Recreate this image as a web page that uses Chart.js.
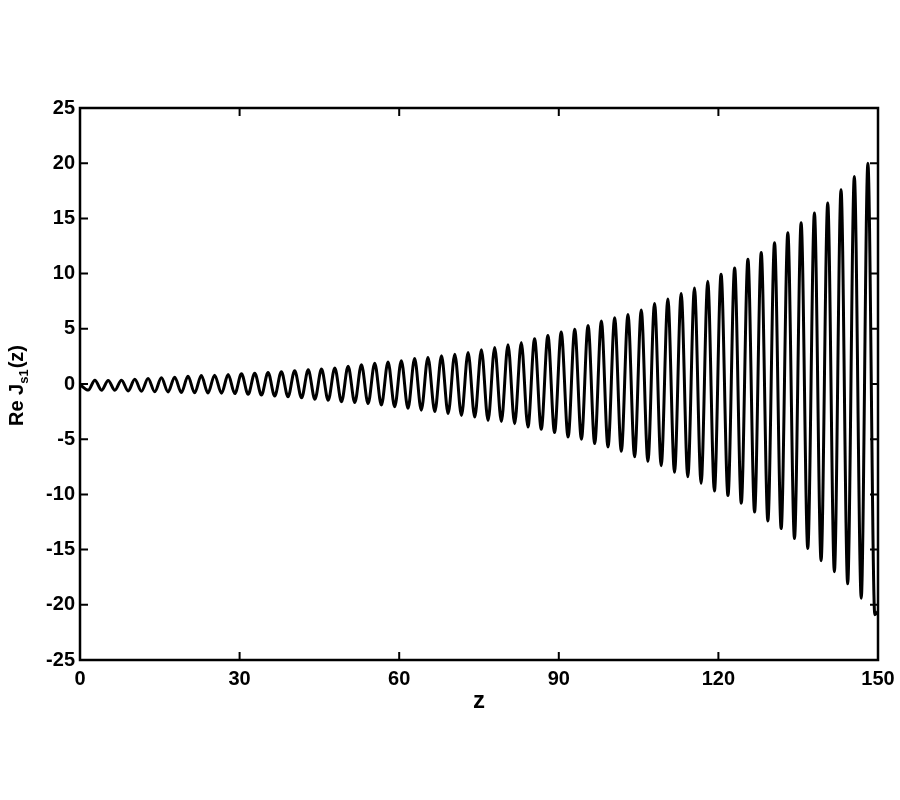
<!DOCTYPE html>
<html>
<head>
<meta charset="utf-8">
<title>Re Js1(z)</title>
<script src="https://cdn.jsdelivr.net/npm/chart.js@4.4.1/dist/chart.umd.min.js"></script>
<style>
  html, body { margin: 0; padding: 0; background: #fff; overflow: hidden; }
  #wrap { width: 900px; height: 800px; position: relative; }
</style>
</head>
<body>
<div id="wrap"><canvas id="chart"></canvas></div>
<script>
// crests and troughs (z, Re Js1)
const peakZ = [2.8, 5.3, 7.8, 10.3, 12.8, 15.3, 17.8, 20.3, 22.8, 25.3,
    27.85, 30.35, 32.85, 35.35, 37.85, 40.35, 42.9, 45.4, 47.9, 50.4,
    52.9, 55.4, 57.9, 60.4, 62.9, 65.4, 67.95, 70.45, 72.95, 75.45,
    77.95, 80.45, 82.95, 85.45, 87.95, 90.45, 93.0, 95.5, 98.0, 100.5,
    103.0, 105.5, 108.0, 110.5, 113.0, 115.5, 118.0, 120.5, 123.05, 125.55,
    128.05, 130.55, 133.05, 135.55, 138.05, 140.55, 143.05, 145.55, 148.1];
const peakRe = [0.35, 0.32, 0.35, 0.42, 0.5, 0.56, 0.62, 0.7, 0.76, 0.8,
    0.85, 0.92, 0.98, 1.04, 1.12, 1.2, 1.28, 1.35, 1.45, 1.6,
    1.75, 1.88, 2.0, 2.1, 2.3, 2.4, 2.55, 2.7, 2.85, 3.1,
    3.3, 3.55, 3.75, 4.1, 4.4, 4.7, 4.95, 5.3, 5.7, 6.0,
    6.3, 6.7, 7.3, 7.7, 8.2, 8.7, 9.3, 9.95, 10.5, 11.3,
    11.9, 12.8, 13.7, 14.6, 15.5, 16.4, 17.6, 18.8, 20.0];

const troughZ = [1.55, 4.05, 6.55, 9.05, 11.55, 14.05, 16.55, 19.05, 21.55, 24.05,
    26.6, 29.1, 31.6, 34.1, 36.6, 39.1, 41.65, 44.15, 46.65, 49.15,
    51.65, 54.15, 56.65, 59.15, 61.65, 64.15, 66.7, 69.2, 71.7, 74.2,
    76.7, 79.2, 81.7, 84.2, 86.7, 89.2, 91.75, 94.25, 96.75, 99.25,
    101.75, 104.25, 106.75, 109.25, 111.75, 114.25, 116.75, 119.25, 121.8, 124.3,
    126.8, 129.3, 131.8, 134.3, 136.8, 139.3, 141.8, 144.3, 146.85, 149.4];
const troughRe = [-0.55, -0.56, -0.57, -0.63, -0.66, -0.7, -0.72, -0.77, -0.8, -0.82,
    -0.84, -0.87, -0.93, -1.0, -1.08, -1.16, -1.25, -1.38, -1.47, -1.6,
    -1.68, -1.77, -1.9, -2.07, -2.2, -2.37, -2.5, -2.67, -2.85, -3.0,
    -3.3, -3.4, -3.6, -3.9, -4.1, -4.4, -4.8, -5.0, -5.4, -5.7,
    -6.1, -6.6, -7.0, -7.4, -8.0, -8.4, -9.0, -9.7, -10.1, -10.8,
    -11.6, -12.4, -13.1, -14.0, -14.9, -16.0, -17.0, -18.1, -19.4, -20.9];

// curve ends
const endZ = [0, 150];
const endRe = [-0.05, -20.6];

const xTicks = [0, 30, 60, 90, 120, 150];
const yTicks = [-25, -20, -15, -10, -5, 0, 5, 10, 15, 20, 25];

const FONT = '"Liberation Sans", Arial, sans-serif';

let points = [];
peakZ.forEach((z, i) => points.push({ x: z, y: peakRe[i] }));
troughZ.forEach((z, i) => points.push({ x: z, y: troughRe[i] }));
endZ.forEach((z, i) => points.push({ x: z, y: endRe[i] }));
points.sort((a, b) => a.x - b.x);

// box frame, inward ticks and axis titles
const framePlugin = {
    id: 'frame',
    afterDraw(chart) {
        const ctx = chart.ctx;
        const a = chart.chartArea;
        const xs = chart.scales.x, ys = chart.scales.y;
        const tl = 8;
        ctx.save();
        ctx.strokeStyle = '#000';
        ctx.lineWidth = 2.5;
        ctx.strokeRect(a.left, a.top, a.right - a.left, a.bottom - a.top);
        ctx.lineWidth = 2;
        ctx.beginPath();
        xTicks.forEach(v => {
            const px = xs.getPixelForValue(v);
            ctx.moveTo(px, a.bottom); ctx.lineTo(px, a.bottom - tl);
            ctx.moveTo(px, a.top); ctx.lineTo(px, a.top + tl);
        });
        yTicks.forEach(v => {
            const py = ys.getPixelForValue(v);
            ctx.moveTo(a.left, py); ctx.lineTo(a.left + tl, py);
            ctx.moveTo(a.right, py); ctx.lineTo(a.right - tl, py);
        });
        ctx.stroke();

        ctx.fillStyle = '#000';
        // x title
        ctx.font = 'bold 24px ' + FONT;
        ctx.textAlign = 'center';
        ctx.textBaseline = 'alphabetic';
        ctx.fillText('z', (a.left + a.right) / 2, 708);

        // y title with subscript, rotated
        ctx.translate(23, (a.top + a.bottom) / 2 + 2);
        ctx.rotate(-Math.PI / 2);
        ctx.textAlign = 'left';
        const big = 'bold 20px ' + FONT, small = 'bold 13px ' + FONT;
        ctx.font = big;
        const w1 = ctx.measureText('Re J').width;
        const w3 = ctx.measureText('(z)').width;
        ctx.font = small;
        const w2 = ctx.measureText('s1').width;
        let x0 = -(w1 + w2 + w3) / 2;
        ctx.font = big;
        ctx.fillText('Re J', x0, 0);
        ctx.font = small;
        ctx.fillText('s1', x0 + w1, 5);
        ctx.font = big;
        ctx.fillText('(z)', x0 + w1 + w2 + 1, 0);
        ctx.restore();
    }
};

new Chart(document.getElementById('chart'), {
    type: 'line',
    data: {
        datasets: [{
            data: points,
            borderColor: '#000',
            borderWidth: 3,
            pointRadius: 0,
            fill: false,
            cubicInterpolationMode: 'monotone'
        }]
    },
    options: {
        responsive: true,
        maintainAspectRatio: false,
        animation: false,
        layout: { padding: { left: 0, right: 22, top: 108, bottom: 0 } },
        plugins: {
            legend: { display: false },
            tooltip: { enabled: false }
        },
        scales: {
            x: {
                type: 'linear',
                min: 0,
                max: 150,
                afterBuildTicks: s => { s.ticks = xTicks.map(v => ({ value: v })); },
                afterFit: s => { s.height = 140; s.paddingRight = 0; s.paddingLeft = 0; },
                grid: { display: false, drawTicks: false },
                border: { display: false },
                ticks: {
                    padding: 7,
                    color: '#000',
                    font: { family: FONT, size: 20, weight: 'bold' }
                }
            },
            y: {
                type: 'linear',
                min: -25,
                max: 25,
                afterBuildTicks: s => { s.ticks = yTicks.map(v => ({ value: v })); },
                afterFit: s => { s.width = 80; s.paddingTop = 0; s.paddingBottom = 0; },
                grid: { display: false, drawTicks: false },
                border: { display: false },
                ticks: {
                    padding: 5,
                    color: '#000',
                    font: { family: FONT, size: 20, weight: 'bold' }
                }
            }
        }
    },
    plugins: [framePlugin]
});
</script>
</body>
</html>
